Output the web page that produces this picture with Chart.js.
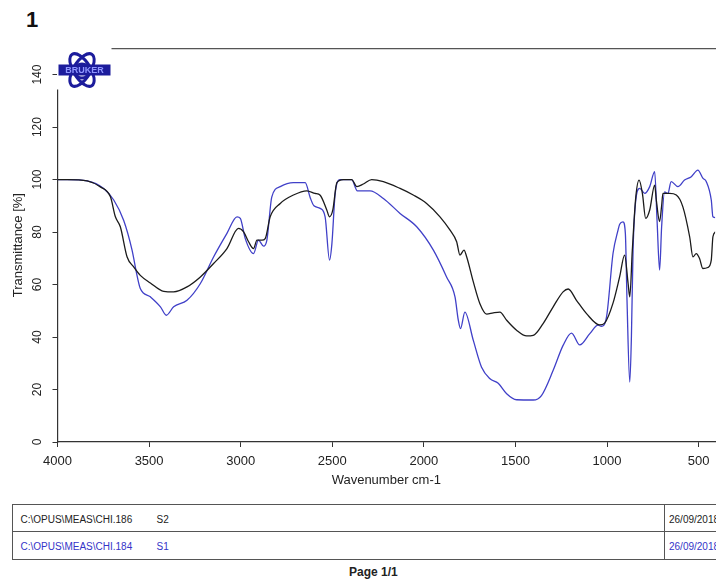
<!DOCTYPE html>
<html>
<head>
<meta charset="utf-8">
<script src="https://cdn.jsdelivr.net/npm/chart.js@4.4.1/dist/chart.umd.min.js"></script>
<style>
  html, body { margin:0; padding:0; background:#fff; overflow:hidden; }
  body { width:716px; height:583px; position:relative; font-family:"Liberation Sans", Arial, sans-serif; }
  #wrap { position:absolute; left:0; top:0; width:716px; height:500px; }
  .abs { position:absolute; white-space:nowrap; }
  .hline { position:absolute; height:0; border-top:1.5px solid #555; }
  .vline { position:absolute; width:0; border-left:1.5px solid #555; }
  .cell { position:absolute; font-size:10px; line-height:10px; color:#222; white-space:nowrap; }
  .blue { color:#3434c8; }
</style>
</head>
<body>
<div class="abs" style="left:26px; top:9px; font-size:22px; line-height:22px; font-weight:bold; color:#111;">1</div>
<div id="wrap"><canvas id="c" width="716" height="500" style="width:716px;height:500px;"></canvas></div>

<!-- file table -->
<div class="hline" style="left:12px; top:503.5px; width:720px;"></div>
<div class="hline" style="left:12px; top:531px; width:720px;"></div>
<div class="hline" style="left:12px; top:558.5px; width:720px;"></div>
<div class="vline" style="left:11.5px; top:503.5px; height:56px;"></div>
<div class="vline" style="left:663.5px; top:503.5px; height:56px;"></div>
<div class="cell" style="left:20.5px; top:514.6px;">C:\OPUS\MEAS\CHI.186</div>
<div class="cell" style="left:156.5px; top:514.6px;">S2</div>
<div class="cell" style="left:669px; top:514.6px;">26/09/2018</div>
<div class="cell blue" style="left:20.5px; top:541.8px;">C:\OPUS\MEAS\CHI.184</div>
<div class="cell blue" style="left:156.5px; top:541.8px;">S1</div>
<div class="cell blue" style="left:669px; top:541.8px;">26/09/2018</div>
<div class="abs" style="left:349px; top:565.8px; font-size:12px; line-height:12px; font-weight:bold; color:#222;">Page 1/1</div>

<script>
// ---- data (wavenumber cm-1, transmittance %) ----
const wnS2 = [4000,3947,3838,3766,3711,3684,3657,3620,3584,3548,3493,3420,3366,3293,3220,3148,3075,3012,2984,2957,2930,2911,2884,2866,2839,2784,2712,2639,2594,2566,2530,2515,2497,2475,2439,2394,2366,2330,2285,2221,2130,2058,1985,1912,1857,1821,1803,1781,1766,1730,1694,1657,1621,1585,1548,1494,1439,1403,1349,1294,1240,1212,1167,1112,1040,1013,967,931,904,885,876,862,843,825,807,789,767,740,731,713,702,695,658,622,586,549,531,513,495,477,450,431,422,407];
const tS2  = [100,100,99.5,97.2,93.4,85.8,82,70.5,66.7,63.5,60.6,57.4,57.2,59.1,62.9,68,73.7,81.4,80.1,76.3,73.7,76.9,76.9,77.5,85.8,90.9,94.1,95.7,94.7,94,88.4,85.8,88.4,98.8,100,100,97.3,98.3,100,99.2,96.6,94.1,90.9,85.8,80.7,76.3,71.2,73.1,70.5,61,52.7,48.7,49.2,49.5,46.4,42.6,40.4,40.6,45.1,51.5,57.2,58.3,54,48.9,44.6,45.3,53,63,71.2,60.4,55.3,73.1,93.4,99.8,94.7,85.2,88.4,97.9,92.2,84,90,94.7,94.7,94.1,89.6,78.2,70.5,71.8,69.9,66.1,66.5,69.3,78.2,80.1];
const wnS1 = [4000,3947,3838,3748,3693,3639,3593,3566,3548,3493,3438,3406,3366,3293,3220,3148,3075,3020,3002,2975,2930,2903,2875,2857,2830,2784,2712,2648,2620,2600,2566,2539,2515,2502,2484,2457,2394,2363,2294,2221,2130,2039,1948,1876,1830,1812,1800,1776,1730,1685,1639,1594,1548,1494,1403,1358,1294,1240,1194,1149,1094,1049,1031,1003,967,940,931,913,900,891,876,867,858,843,822,794,767,740,727,713,702,686,668,650,613,577,540,504,477,458,431,422,407];
const tS1  = [100,100,99.5,96.6,92.2,84.5,73.1,63.5,58.5,55.3,51.5,48.3,51.5,54,60.4,70.5,79.5,85.8,85.2,77.5,71.8,76.9,74.6,76.9,93.4,97.3,98.8,98.8,93,90,89,85.8,69.3,75.6,94.7,100,100,95.7,95.7,92.8,87.1,82,73.1,62.9,55.3,46.4,43.2,49.5,38.7,28.5,24.1,22.4,18.4,16.1,16,17.7,27.3,36.8,41.5,37,41.3,44.5,44.1,47.6,72,80.7,83,83.9,79.5,54,22.8,40,73.1,92.2,96.6,94.7,97.3,103,84.5,65.5,82,95.3,94.7,99.2,97.3,99.8,101.1,103.6,100.5,99.2,92.2,85.8,85.5];
const xTicks = [4000,3500,3000,2500,2000,1500,1000,500];
const yTicks = [0,20,40,60,80,100,120,140];
const seriesNames = ['S2','S1'];

const FONT = 'Liberation Sans';
const toPts = (xs, ys) => xs.map((x, i) => ({x: x, y: ys[i]}));

const brukerLogo = {
  id: 'brukerLogo',
  afterDraw(chart) {
    const ctx = chart.ctx;
    ctx.save();
    ctx.fillStyle = '#fff';
    ctx.fillRect(57, 43, 54.5, 46.5);
    const cx = 82, cy = 70, blue = '#1c1c9c';
    ctx.strokeStyle = blue;
    ctx.lineWidth = 3;
    ctx.beginPath(); ctx.ellipse(cx, cy, 18.5, 8.5, Math.PI/3.1, 0, Math.PI*2); ctx.stroke();
    ctx.beginPath(); ctx.ellipse(cx, cy, 18.5, 8.5, -Math.PI/3.1, 0, Math.PI*2); ctx.stroke();
    ctx.beginPath(); ctx.arc(cx, cy + 1, 7, 0, Math.PI*2); ctx.stroke();
    ctx.fillStyle = blue;
    ctx.fillRect(58.5, 64.5, 52, 11);
    ctx.fillStyle = '#8f96ff';
    ctx.font = 'bold 9px "' + FONT + '"';
    ctx.textAlign = 'center';
    ctx.textBaseline = 'middle';
    ctx.fillText('BRUKER', 84.5, 70.5);
    ctx.restore();
  }
};

new Chart(document.getElementById('c'), {
  type: 'line',
  data: {
    datasets: [
      { label: seriesNames[0], data: toPts(wnS2, tS2), borderColor: '#1b1b1b', borderWidth: 1.3,
        pointRadius: 0, cubicInterpolationMode: 'monotone', fill: false },
      { label: seriesNames[1], data: toPts(wnS1, tS1), borderColor: '#4040c8', borderWidth: 1.3,
        pointRadius: 0, cubicInterpolationMode: 'monotone', fill: false }
    ]
  },
  options: {
    responsive: false,
    animation: false,
    devicePixelRatio: 1,
    layout: { padding: { top: 48.3, left: 0, right: 0, bottom: 0 } },
    plugins: { legend: { display: false }, tooltip: { enabled: false }, title: { display: false } },
    scales: {
      x: {
        type: 'linear', position: 'bottom', reverse: true, min: 410, max: 4000,
        afterBuildTicks: s => { s.ticks = xTicks.map(v => ({ value: v })); },
        afterFit: s => { s.height = 58; },
        grid: { drawOnChartArea: false, drawTicks: true, tickLength: 5, color: '#333', lineWidth: 1 },
        border: { display: true, color: '#333', width: 1.2 },
        ticks: { autoSkip: false, maxRotation: 0, minRotation: 0, padding: 6.5, color: '#222',
                 font: { family: FONT, size: 13 }, callback: v => String(v) },
        title: { display: true, text: 'Wavenumber cm-1', color: '#222',
                 font: { family: FONT, size: 13 }, padding: { top: 0, bottom: 11.7 } }
      },
      x2: {
        type: 'linear', position: 'top', reverse: true, min: 410, max: 4000, display: true,
        afterFit: s => { s.height = 0; },
        grid: { display: false, drawTicks: false },
        ticks: { display: false },
        border: { display: true, color: '#555', width: 1.3 }
      },
      y: {
        type: 'linear', position: 'left', min: 0, max: 150,
        afterBuildTicks: s => { s.ticks = yTicks.map(v => ({ value: v })); },
        afterFit: s => { s.width = 57.5; },
        grid: { drawOnChartArea: false, drawTicks: true, tickLength: 5, color: '#333', lineWidth: 1 },
        border: { display: true, color: '#333', width: 1.2 },
        ticks: { autoSkip: false, minRotation: 90, maxRotation: 90, crossAlign: 'center', padding: 5,
                 color: '#222', font: { family: FONT, size: 12 }, callback: v => String(v) },
        title: { display: true, text: 'Transmittance [%]', color: '#222',
                 font: { family: FONT, size: 13 }, padding: { top: 11, bottom: 0 } }
      }
    }
  },
  plugins: [brukerLogo]
});
</script>
</body>
</html>
